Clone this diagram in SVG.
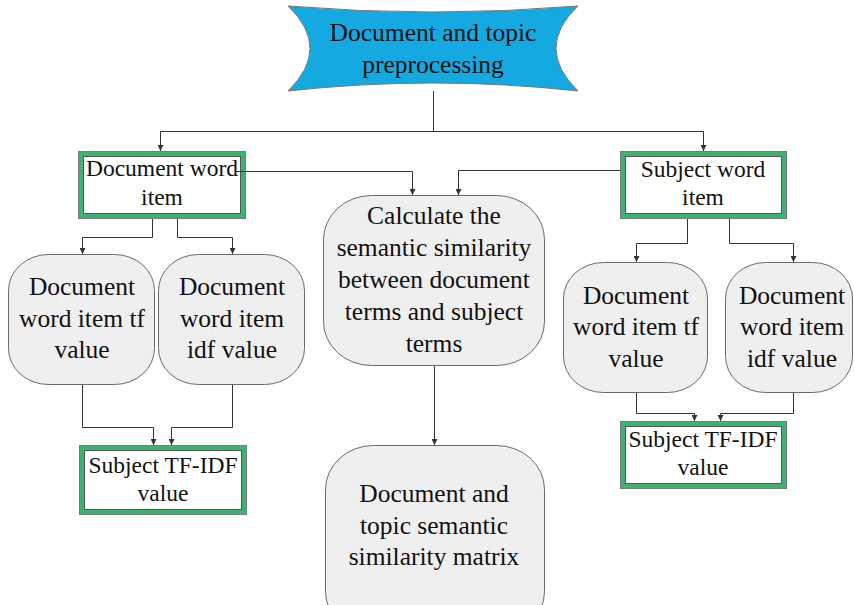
<svg xmlns="http://www.w3.org/2000/svg" width="854" height="605" viewBox="0 0 854 605">
  <defs>
    <marker id="arr" viewBox="0 0 6 6" refX="6" refY="3" markerWidth="6" markerHeight="6" markerUnits="userSpaceOnUse" orient="auto">
      <path d="M0,0 L6,3 L0,6 Z" fill="#333"/>
    </marker>
  </defs>
  <style>
    text { font-family: 'Liberation Serif', 'Times New Roman', serif; fill: #111; text-anchor: middle; }
    .big { font-size: 25.5px; }
    .box { font-size: 23.5px; }
    .round { fill: #efefef; stroke: #6a6a6a; stroke-width: 1; }
    .outer { fill: none; stroke: #7a7a7a; stroke-width: 1; }
    .band { fill: none; stroke: #3cb371; stroke-width: 4; }
    .inner { fill: #fff; stroke: #555; stroke-width: 1; }
    .link { fill: none; stroke: #333; stroke-width: 1; marker-end: url(#arr); }
  </style>
  <rect width="854" height="605" fill="#fff"/>

  <!-- top banner -->
  <g id="preprocess">
    <path d="M288,6 Q433,18 578,6 Q534,48 578,91 Q433,75 288,91 Q332,48 288,6 Z" fill="#14a9e1" stroke="#777" stroke-width="1"/>
    <text class="big" x="433" y="41">Document and topic</text>
    <text class="big" x="433" y="73">preprocessing</text>
  </g>

  <!-- word item boxes -->
  <g id="doc-word-item">
    <rect class="outer" x="78.5" y="151.5" width="167" height="67"/>
    <rect class="band" x="81" y="154" width="162" height="62"/>
    <rect class="inner" x="83.5" y="156.5" width="157" height="57"/>
    <text class="box" x="162" y="176">Document word</text>
    <text class="box" x="162" y="205">item</text>
  </g>
  <g id="subj-word-item">
    <rect class="outer" x="620.5" y="151.5" width="166" height="67"/>
    <rect class="band" x="623" y="154" width="161" height="62"/>
    <rect class="inner" x="625.5" y="156.5" width="156" height="57"/>
    <text class="box" x="703" y="177">Subject word</text>
    <text class="box" x="703" y="205">item</text>
  </g>

  <!-- left tf / idf -->
  <g id="doc-tf-left">
    <rect class="round" x="8.5" y="254.5" width="146" height="130" rx="40" ry="36"/>
    <text class="big" x="82" y="295">Document</text>
    <text class="big" x="82" y="327">word item tf</text>
    <text class="big" x="82" y="358">value</text>
  </g>
  <g id="doc-idf-left">
    <rect class="round" x="158.5" y="254.5" width="146" height="130" rx="40" ry="36"/>
    <text class="big" x="232" y="295">Document</text>
    <text class="big" x="232" y="327">word item</text>
    <text class="big" x="232" y="358">idf value</text>
  </g>

  <!-- right tf / idf -->
  <g id="doc-tf-right">
    <rect class="round" x="563.5" y="262.5" width="144" height="130" rx="40" ry="36"/>
    <text class="big" x="636" y="304">Document</text>
    <text class="big" x="636" y="335">word item tf</text>
    <text class="big" x="636" y="367">value</text>
  </g>
  <g id="doc-idf-right">
    <rect class="round" x="725.5" y="262.5" width="127" height="130" rx="40" ry="36"/>
    <text class="big" x="792" y="304">Document</text>
    <text class="big" x="792" y="335">word item</text>
    <text class="big" x="792" y="367">idf value</text>
  </g>

  <!-- TF-IDF result boxes -->
  <g id="tfidf-left">
    <rect class="outer" x="79.5" y="445.5" width="167" height="69"/>
    <rect class="band" x="82" y="448" width="162" height="64"/>
    <rect class="inner" x="84.5" y="450.5" width="157" height="59"/>
    <text class="box" x="163" y="473">Subject TF-IDF</text>
    <text class="box" x="163" y="501">value</text>
  </g>
  <g id="tfidf-right">
    <rect class="outer" x="620.5" y="421.5" width="166" height="67"/>
    <rect class="band" x="623" y="424" width="161" height="62"/>
    <rect class="inner" x="625.5" y="426.5" width="156" height="57"/>
    <text class="box" x="703" y="447">Subject TF-IDF</text>
    <text class="box" x="703" y="475">value</text>
  </g>

  <!-- middle column -->
  <g id="similarity">
    <rect class="round" x="323.5" y="195.5" width="221" height="170" rx="48" ry="44"/>
    <text class="big" x="434" y="224">Calculate the</text>
    <text class="big" x="434" y="256">semantic similarity</text>
    <text class="big" x="434" y="288">between document</text>
    <text class="big" x="434" y="320">terms and subject</text>
    <text class="big" x="434" y="352">terms</text>
  </g>
  <g id="matrix">
    <rect class="round" x="325.5" y="445.5" width="219" height="190" rx="48" ry="44"/>
    <text class="big" x="434" y="502">Document and</text>
    <text class="big" x="434" y="534">topic semantic</text>
    <text class="big" x="434" y="565">similarity matrix</text>
  </g>

  <!-- connectors -->
  <g id="connectors">
    <path class="link" d="M433.5,91 V131.5 H160.5 V151"/>
    <path class="link" d="M433.5,131.5 H703.5 V151"/>
    <path class="link" d="M236,171.5 H412.5 V195"/>
    <path class="link" d="M620,170.5 H458.5 V195"/>
    <path class="link" d="M152.5,219 V237.5 H82.5 V254"/>
    <path class="link" d="M177.5,219 V237.5 H232.5 V254"/>
    <path class="link" d="M687.5,219 V243.5 H636.5 V262"/>
    <path class="link" d="M729.5,219 V243.5 H793.5 V262"/>
    <path class="link" d="M82.5,385 V427.5 H153.5 V445"/>
    <path class="link" d="M232.5,385 V427.5 H171.5 V445"/>
    <path class="link" d="M636.5,393 V413.5 H694.5 V421"/>
    <path class="link" d="M793.5,393 V413.5 H720.5 V421"/>
    <path class="link" d="M434.5,366 V445"/>
  </g>
</svg>
